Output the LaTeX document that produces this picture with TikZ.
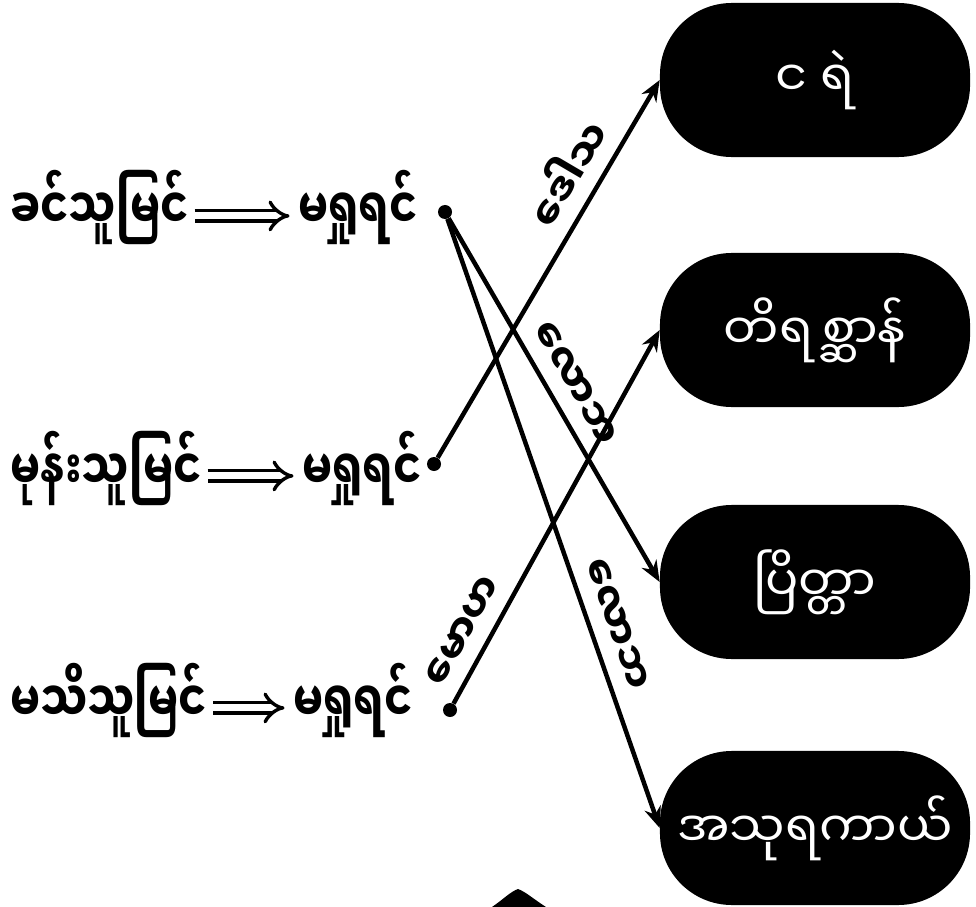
\documentclass[tikz,border=0pt]{standalone}
\usepackage{fontspec}
\newfontfamily\mmfont[Script=Myanmar]{Noto Sans Myanmar UI}
\newfontfamily\mmnarrow[Script=Myanmar, FakeStretch=0.75]{Noto Sans Myanmar UI}
\usetikzlibrary{positioning, arrows.meta}

\begin{document}
\begin{tikzpicture}[x=0.025cm, y=-0.025cm, >=Stealth,
    cause/.style={font=\mmnarrow\bfseries\fontsize{40}{46}\selectfont, inner sep=0pt},
    realm/.style={fill=black, text=white, rounded corners=1.8cm, minimum width=7.75cm, minimum height=3.85cm, font=\mmfont\fontsize{35}{42}\selectfont},
    root/.style={font=\mmfont\bfseries\fontsize{29}{34}\selectfont, sloped, above=7pt, inner sep=0pt},
    spot/.style={circle, fill=black, inner sep=0pt, minimum size=0.35cm},
    leads/.style={double, line width=2.4pt, double distance=5pt, -{Implies[scale=1.6]}, shorten <=4pt, shorten >=6pt},
    link/.style={-{Stealth[length=15pt, width=12pt]}, line width=3.2pt}]

  \useasboundingbox (0,0) rectangle (976,907);

  % who sees
  \node[cause, anchor=base west] (khin) at (10,230) {ခင်သူမြင်};
  \node[cause, anchor=base west] (mone) at (10,490) {မုန်းသူမြင်};
  \node[cause, anchor=base west] (mathi) at (10,722) {မသိသူမြင်};

  \node[cause, anchor=base west] (khinno) at (298,230) {မရှုရင်};
  \node[cause, anchor=base west] (moneno) at (302,490) {မရှုရင်};
  \node[cause, anchor=base west] (mathino) at (293,722) {မရှုရင်};

  \draw[leads] ([yshift=10pt]khin.base east) -- ([yshift=10pt]khinno.base west);
  \draw[leads] ([yshift=10pt]mone.base east) -- ([yshift=10pt]moneno.base west);
  \draw[leads] ([yshift=10pt]mathi.base east) -- ([yshift=10pt]mathino.base west);

  \node[spot] (khindot) at (445,212) {};
  \node[spot] (monedot) at (434,464) {};
  \node[spot] (mathidot) at (450,710) {};

  % where they go
  \node[realm] (hell) at (815,80) {င ရဲ};
  \node[realm] (beast) at (815,330) {တိရစ္ဆာန်};
  \node[realm] (ghost) at (815,582) {ပြိတ္တာ};
  \node[realm] (asura) at (815,828) {အသုရကာယ်};

  \draw[link] (monedot) -- node[root, pos=0.71] {ဒေါသ} (hell.west);
  \draw[link] (khindot) -- node[root, pos=0.49] {လောဘ} (ghost.west);
  \draw[link] (khindot) -- node[root, pos=0.68] {လောဘ} (asura.west);
  \draw[link] (mathidot) -- node[root, pos=0.16] {မောဟ} (beast.west);

  \fill (492,907) .. controls (505,898) and (510,892) .. (518,889) .. controls (526,892) and (532,898) .. (546,907) -- cycle;
\end{tikzpicture}
\end{document}
